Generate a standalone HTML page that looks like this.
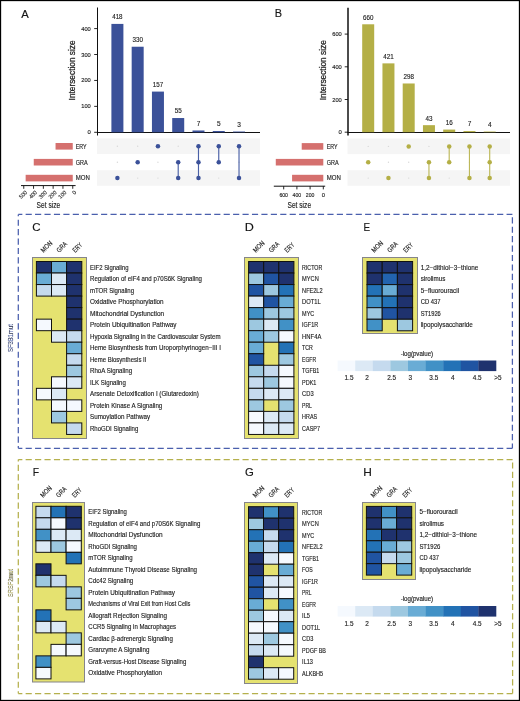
<!DOCTYPE html><html><head><meta charset="utf-8"><style>html,body{margin:0;padding:0;background:#fff;width:520px;height:701px;overflow:hidden;}svg{display:block;will-change:transform;}</style></head><body><svg width="520" height="701" viewBox="0 0 520 701" font-family='"Liberation Sans", sans-serif' fill="#222">
<style>text{stroke:#222;stroke-width:0.14px;}</style>
<rect x="0" y="0" width="520" height="701" fill="#fff"/>
<line x1="97.50" y1="7.50" x2="97.50" y2="135.50" stroke="#111" stroke-width="1"/>
<line x1="94.20" y1="132.30" x2="97.50" y2="132.30" stroke="#111" stroke-width="0.9"/>
<text x="90.80" y="134.30" font-size="5.9" text-anchor="end">0</text>
<line x1="94.20" y1="106.37" x2="97.50" y2="106.37" stroke="#111" stroke-width="0.9"/>
<text x="90.80" y="108.37" font-size="5.9" text-anchor="end" textLength="9.60" lengthAdjust="spacingAndGlyphs">100</text>
<line x1="94.20" y1="80.44" x2="97.50" y2="80.44" stroke="#111" stroke-width="0.9"/>
<text x="90.80" y="82.44" font-size="5.9" text-anchor="end" textLength="9.60" lengthAdjust="spacingAndGlyphs">200</text>
<line x1="94.20" y1="54.51" x2="97.50" y2="54.51" stroke="#111" stroke-width="0.9"/>
<text x="90.80" y="56.51" font-size="5.9" text-anchor="end" textLength="9.60" lengthAdjust="spacingAndGlyphs">300</text>
<line x1="94.20" y1="28.58" x2="97.50" y2="28.58" stroke="#111" stroke-width="0.9"/>
<text x="90.80" y="30.58" font-size="5.9" text-anchor="end" textLength="9.60" lengthAdjust="spacingAndGlyphs">400</text>
<line x1="97.00" y1="132.50" x2="260.00" y2="132.50" stroke="#111" stroke-width="1.05"/>
<text x="75.00" y="70.40" font-size="8.8" text-anchor="middle" textLength="60.00" lengthAdjust="spacingAndGlyphs" transform="rotate(-90 75.00 70.40)" style="stroke-width:0.25px">Intersection size</text>
<rect x="111.40" y="23.91" width="12.00" height="108.39" fill="#3B5199"/>
<text x="117.40" y="19.31" font-size="6.5" text-anchor="middle" textLength="10.40" lengthAdjust="spacingAndGlyphs">418</text>
<rect x="131.67" y="46.73" width="12.00" height="85.57" fill="#3B5199"/>
<text x="137.67" y="42.13" font-size="6.5" text-anchor="middle" textLength="10.40" lengthAdjust="spacingAndGlyphs">330</text>
<rect x="151.94" y="91.59" width="12.00" height="40.71" fill="#3B5199"/>
<text x="157.94" y="86.99" font-size="6.5" text-anchor="middle" textLength="10.40" lengthAdjust="spacingAndGlyphs">157</text>
<rect x="172.21" y="118.04" width="12.00" height="14.26" fill="#3B5199"/>
<text x="178.21" y="113.44" font-size="6.5" text-anchor="middle" textLength="7.00" lengthAdjust="spacingAndGlyphs">55</text>
<rect x="192.48" y="130.48" width="12.00" height="1.82" fill="#3B5199"/>
<text x="198.48" y="125.88" font-size="6.5" text-anchor="middle">7</text>
<rect x="212.75" y="131.00" width="12.00" height="1.30" fill="#3B5199"/>
<text x="218.75" y="126.40" font-size="6.5" text-anchor="middle">5</text>
<rect x="233.02" y="131.52" width="12.00" height="0.78" fill="#3B5199"/>
<text x="239.02" y="126.92" font-size="6.5" text-anchor="middle">3</text>
<rect x="97.00" y="138.40" width="163.00" height="15.60" fill="#F5F5F5"/>
<rect x="97.00" y="170.20" width="163.00" height="15.60" fill="#F5F5F5"/>
<circle cx="117.40" cy="146.30" r="0.7" fill="#D8D8D8"/>
<circle cx="117.40" cy="162.20" r="0.7" fill="#D8D8D8"/>
<circle cx="117.40" cy="178.10" r="2.25" fill="#3B5199"/>
<circle cx="137.67" cy="146.30" r="0.7" fill="#D8D8D8"/>
<circle cx="137.67" cy="178.10" r="0.7" fill="#D8D8D8"/>
<circle cx="137.67" cy="162.20" r="2.25" fill="#3B5199"/>
<circle cx="157.94" cy="162.20" r="0.7" fill="#D8D8D8"/>
<circle cx="157.94" cy="178.10" r="0.7" fill="#D8D8D8"/>
<circle cx="157.94" cy="146.30" r="2.25" fill="#3B5199"/>
<circle cx="178.21" cy="146.30" r="0.7" fill="#D8D8D8"/>
<line x1="178.21" y1="162.20" x2="178.21" y2="178.10" stroke="#4A60A6" stroke-width="1.15"/>
<circle cx="178.21" cy="162.20" r="2.25" fill="#3B5199"/>
<circle cx="178.21" cy="178.10" r="2.25" fill="#3B5199"/>
<line x1="198.48" y1="146.30" x2="198.48" y2="178.10" stroke="#4A60A6" stroke-width="1.15"/>
<circle cx="198.48" cy="146.30" r="2.25" fill="#3B5199"/>
<circle cx="198.48" cy="162.20" r="2.25" fill="#3B5199"/>
<circle cx="198.48" cy="178.10" r="2.25" fill="#3B5199"/>
<circle cx="218.75" cy="178.10" r="0.7" fill="#D8D8D8"/>
<line x1="218.75" y1="146.30" x2="218.75" y2="162.20" stroke="#4A60A6" stroke-width="1.15"/>
<circle cx="218.75" cy="146.30" r="2.25" fill="#3B5199"/>
<circle cx="218.75" cy="162.20" r="2.25" fill="#3B5199"/>
<circle cx="239.02" cy="162.20" r="0.7" fill="#D8D8D8"/>
<line x1="239.02" y1="146.30" x2="239.02" y2="178.10" stroke="#4A60A6" stroke-width="1.15"/>
<circle cx="239.02" cy="146.30" r="2.25" fill="#3B5199"/>
<circle cx="239.02" cy="178.10" r="2.25" fill="#3B5199"/>
<rect x="55.55" y="143.00" width="17.20" height="6.60" fill="#D5706E"/>
<text x="75.80" y="148.60" font-size="6.4" textLength="10.80" lengthAdjust="spacingAndGlyphs">ERY</text>
<rect x="33.75" y="158.90" width="39.00" height="6.60" fill="#D5706E"/>
<text x="75.80" y="164.50" font-size="6.4" textLength="11.90" lengthAdjust="spacingAndGlyphs">GRA</text>
<rect x="25.65" y="174.80" width="47.10" height="6.60" fill="#D5706E"/>
<text x="75.80" y="180.40" font-size="6.4" textLength="14.10" lengthAdjust="spacingAndGlyphs">MON</text>
<line x1="21.00" y1="185.60" x2="75.60" y2="185.60" stroke="#111" stroke-width="1"/>
<line x1="72.75" y1="185.60" x2="72.75" y2="188.80" stroke="#111" stroke-width="0.9"/>
<text x="76.65" y="192.80" font-size="5.6" text-anchor="end" transform="rotate(-45 76.65 192.80)">0</text>
<line x1="62.95" y1="185.60" x2="62.95" y2="188.80" stroke="#111" stroke-width="0.9"/>
<text x="66.85" y="192.80" font-size="5.6" text-anchor="end" textLength="8.90" lengthAdjust="spacingAndGlyphs" transform="rotate(-45 66.85 192.80)">100</text>
<line x1="53.15" y1="185.60" x2="53.15" y2="188.80" stroke="#111" stroke-width="0.9"/>
<text x="57.05" y="192.80" font-size="5.6" text-anchor="end" textLength="8.90" lengthAdjust="spacingAndGlyphs" transform="rotate(-45 57.05 192.80)">200</text>
<line x1="43.35" y1="185.60" x2="43.35" y2="188.80" stroke="#111" stroke-width="0.9"/>
<text x="47.25" y="192.80" font-size="5.6" text-anchor="end" textLength="8.90" lengthAdjust="spacingAndGlyphs" transform="rotate(-45 47.25 192.80)">300</text>
<line x1="33.55" y1="185.60" x2="33.55" y2="188.80" stroke="#111" stroke-width="0.9"/>
<text x="37.45" y="192.80" font-size="5.6" text-anchor="end" textLength="8.90" lengthAdjust="spacingAndGlyphs" transform="rotate(-45 37.45 192.80)">400</text>
<line x1="23.75" y1="185.60" x2="23.75" y2="188.80" stroke="#111" stroke-width="0.9"/>
<text x="27.65" y="192.80" font-size="5.6" text-anchor="end" textLength="8.90" lengthAdjust="spacingAndGlyphs" transform="rotate(-45 27.65 192.80)">500</text>
<text x="48.40" y="208.30" font-size="8.2" text-anchor="middle" textLength="23.60" lengthAdjust="spacingAndGlyphs">Set size</text>
<line x1="348.00" y1="7.70" x2="348.00" y2="135.40" stroke="#111" stroke-width="1.5"/>
<line x1="344.70" y1="132.20" x2="348.00" y2="132.20" stroke="#111" stroke-width="0.9"/>
<text x="341.80" y="134.20" font-size="5.9" text-anchor="end">0</text>
<line x1="344.70" y1="99.50" x2="348.00" y2="99.50" stroke="#111" stroke-width="0.9"/>
<text x="341.80" y="101.50" font-size="5.9" text-anchor="end" textLength="9.60" lengthAdjust="spacingAndGlyphs">200</text>
<line x1="344.70" y1="66.80" x2="348.00" y2="66.80" stroke="#111" stroke-width="0.9"/>
<text x="341.80" y="68.80" font-size="5.9" text-anchor="end" textLength="9.60" lengthAdjust="spacingAndGlyphs">400</text>
<line x1="344.70" y1="34.10" x2="348.00" y2="34.10" stroke="#111" stroke-width="0.9"/>
<text x="341.80" y="36.10" font-size="5.9" text-anchor="end" textLength="9.60" lengthAdjust="spacingAndGlyphs">600</text>
<line x1="347.50" y1="132.50" x2="510.00" y2="132.50" stroke="#111" stroke-width="1.05"/>
<text x="326.00" y="70.20" font-size="8.8" text-anchor="middle" textLength="60.00" lengthAdjust="spacingAndGlyphs" transform="rotate(-90 326.00 70.20)" style="stroke-width:0.25px">Intersection size</text>
<rect x="362.20" y="24.29" width="12.00" height="107.91" fill="#B4AF46"/>
<text x="368.20" y="19.69" font-size="6.5" text-anchor="middle" textLength="10.40" lengthAdjust="spacingAndGlyphs">660</text>
<rect x="382.45" y="63.37" width="12.00" height="68.83" fill="#B4AF46"/>
<text x="388.45" y="58.77" font-size="6.5" text-anchor="middle" textLength="10.40" lengthAdjust="spacingAndGlyphs">421</text>
<rect x="402.70" y="83.48" width="12.00" height="48.72" fill="#B4AF46"/>
<text x="408.70" y="78.88" font-size="6.5" text-anchor="middle" textLength="10.40" lengthAdjust="spacingAndGlyphs">298</text>
<rect x="422.95" y="125.17" width="12.00" height="7.03" fill="#B4AF46"/>
<text x="428.95" y="120.57" font-size="6.5" text-anchor="middle" textLength="7.00" lengthAdjust="spacingAndGlyphs">43</text>
<rect x="443.20" y="129.58" width="12.00" height="2.62" fill="#B4AF46"/>
<text x="449.20" y="124.98" font-size="6.5" text-anchor="middle" textLength="7.00" lengthAdjust="spacingAndGlyphs">16</text>
<rect x="463.45" y="131.06" width="12.00" height="1.14" fill="#B4AF46"/>
<text x="469.45" y="126.46" font-size="6.5" text-anchor="middle">7</text>
<rect x="483.70" y="131.55" width="12.00" height="0.65" fill="#B4AF46"/>
<text x="489.70" y="126.95" font-size="6.5" text-anchor="middle">4</text>
<rect x="347.50" y="138.50" width="162.50" height="15.60" fill="#F5F5F5"/>
<rect x="347.50" y="170.20" width="162.50" height="15.60" fill="#F5F5F5"/>
<circle cx="368.20" cy="146.40" r="0.7" fill="#D8D8D8"/>
<circle cx="368.20" cy="178.10" r="0.7" fill="#D8D8D8"/>
<circle cx="368.20" cy="162.20" r="2.25" fill="#B4AF46"/>
<circle cx="388.45" cy="146.40" r="0.7" fill="#D8D8D8"/>
<circle cx="388.45" cy="162.20" r="0.7" fill="#D8D8D8"/>
<circle cx="388.45" cy="178.10" r="2.25" fill="#B4AF46"/>
<circle cx="408.70" cy="162.20" r="0.7" fill="#D8D8D8"/>
<circle cx="408.70" cy="178.10" r="0.7" fill="#D8D8D8"/>
<circle cx="408.70" cy="146.40" r="2.25" fill="#B4AF46"/>
<circle cx="428.95" cy="146.40" r="0.7" fill="#D8D8D8"/>
<line x1="428.95" y1="162.20" x2="428.95" y2="178.10" stroke="#BDB85A" stroke-width="1.15"/>
<circle cx="428.95" cy="162.20" r="2.25" fill="#B4AF46"/>
<circle cx="428.95" cy="178.10" r="2.25" fill="#B4AF46"/>
<circle cx="449.20" cy="178.10" r="0.7" fill="#D8D8D8"/>
<line x1="449.20" y1="146.40" x2="449.20" y2="162.20" stroke="#BDB85A" stroke-width="1.15"/>
<circle cx="449.20" cy="146.40" r="2.25" fill="#B4AF46"/>
<circle cx="449.20" cy="162.20" r="2.25" fill="#B4AF46"/>
<circle cx="469.45" cy="162.20" r="0.7" fill="#D8D8D8"/>
<line x1="469.45" y1="146.40" x2="469.45" y2="178.10" stroke="#BDB85A" stroke-width="1.15"/>
<circle cx="469.45" cy="146.40" r="2.25" fill="#B4AF46"/>
<circle cx="469.45" cy="178.10" r="2.25" fill="#B4AF46"/>
<line x1="489.70" y1="146.40" x2="489.70" y2="178.10" stroke="#BDB85A" stroke-width="1.15"/>
<circle cx="489.70" cy="146.40" r="2.25" fill="#B4AF46"/>
<circle cx="489.70" cy="162.20" r="2.25" fill="#B4AF46"/>
<circle cx="489.70" cy="178.10" r="2.25" fill="#B4AF46"/>
<rect x="301.72" y="143.10" width="21.58" height="6.60" fill="#D5706E"/>
<text x="326.70" y="148.70" font-size="6.4" textLength="10.80" lengthAdjust="spacingAndGlyphs">ERY</text>
<rect x="275.78" y="158.90" width="47.52" height="6.60" fill="#D5706E"/>
<text x="326.70" y="164.50" font-size="6.4" textLength="11.90" lengthAdjust="spacingAndGlyphs">GRA</text>
<rect x="292.08" y="174.80" width="31.22" height="6.60" fill="#D5706E"/>
<text x="326.70" y="180.40" font-size="6.4" textLength="14.10" lengthAdjust="spacingAndGlyphs">MON</text>
<line x1="273.80" y1="186.20" x2="325.20" y2="186.20" stroke="#111" stroke-width="1"/>
<line x1="323.30" y1="186.20" x2="323.30" y2="189.40" stroke="#111" stroke-width="0.9"/>
<text x="323.30" y="197.00" font-size="5.8" text-anchor="middle">0</text>
<line x1="310.10" y1="186.20" x2="310.10" y2="189.40" stroke="#111" stroke-width="0.9"/>
<text x="310.10" y="197.00" font-size="5.8" text-anchor="middle" textLength="8.60" lengthAdjust="spacingAndGlyphs">200</text>
<line x1="296.90" y1="186.20" x2="296.90" y2="189.40" stroke="#111" stroke-width="0.9"/>
<text x="296.90" y="197.00" font-size="5.8" text-anchor="middle" textLength="8.60" lengthAdjust="spacingAndGlyphs">400</text>
<line x1="283.70" y1="186.20" x2="283.70" y2="189.40" stroke="#111" stroke-width="0.9"/>
<text x="283.70" y="197.00" font-size="5.8" text-anchor="middle" textLength="8.60" lengthAdjust="spacingAndGlyphs">600</text>
<text x="299.30" y="208.40" font-size="8.2" text-anchor="middle" textLength="23.60" lengthAdjust="spacingAndGlyphs">Set size</text>
<text x="21.20" y="17.50" font-size="10.8" textLength="7.50" lengthAdjust="spacingAndGlyphs" fill="#111" stroke="#111">A</text>
<text x="274.80" y="17.30" font-size="10.8" textLength="7.30" lengthAdjust="spacingAndGlyphs" fill="#111" stroke="#111">B</text>
<text x="32.30" y="230.90" font-size="10.8" textLength="8.30" lengthAdjust="spacingAndGlyphs" fill="#111" stroke="#111">C</text>
<text x="244.80" y="230.90" font-size="10.8" textLength="9.10" lengthAdjust="spacingAndGlyphs" fill="#111" stroke="#111">D</text>
<text x="363.60" y="231.10" font-size="10.8" textLength="6.60" lengthAdjust="spacingAndGlyphs" fill="#111" stroke="#111">E</text>
<text x="32.70" y="476.30" font-size="10.8" textLength="6.30" lengthAdjust="spacingAndGlyphs" fill="#111" stroke="#111">F</text>
<text x="245.10" y="476.40" font-size="10.8" textLength="8.80" lengthAdjust="spacingAndGlyphs" fill="#111" stroke="#111">G</text>
<text x="363.20" y="476.10" font-size="10.8" textLength="8.60" lengthAdjust="spacingAndGlyphs" fill="#111" stroke="#111">H</text>
<g stroke="#4A5FAD" stroke-width="1.25" fill="none" stroke-dasharray="6.15 3.28">
<line x1="18.3" y1="214.4" x2="512.4" y2="214.4" stroke-dashoffset="2.1"/>
<line x1="18.3" y1="448.3" x2="512.4" y2="448.3" stroke-dashoffset="2.1"/>
<line x1="18.3" y1="214.4" x2="18.3" y2="448.3" stroke-dashoffset="4.2"/>
<line x1="512.4" y1="214.4" x2="512.4" y2="448.3" stroke-dashoffset="6.6"/>
</g>
<g stroke="#B5B04C" stroke-width="1.25" fill="none" stroke-dasharray="6.15 3.28">
<line x1="18.3" y1="459.6" x2="512.6" y2="459.6" stroke-dashoffset="2.1"/>
<line x1="18.3" y1="693.5" x2="512.6" y2="693.5" stroke-dashoffset="2.1"/>
<line x1="18.3" y1="459.6" x2="18.3" y2="693.5" stroke-dashoffset="4.2"/>
<line x1="512.6" y1="459.6" x2="512.6" y2="693.5" stroke-dashoffset="6.6"/>
</g>
<text x="13.00" y="338.00" font-size="6.6" text-anchor="middle" textLength="28.00" lengthAdjust="spacingAndGlyphs" transform="rotate(-90 13.00 338.00)" fill="#5C70B8" stroke="none">SF3B1mut</text>
<text x="13.00" y="583.00" font-size="6.6" text-anchor="middle" textLength="28.00" lengthAdjust="spacingAndGlyphs" transform="rotate(-90 13.00 583.00)" fill="#C3BE6E" stroke="none">SRSF2mut</text>
<rect x="32.50" y="257.50" width="54.00" height="181.00" fill="#E5E270" stroke="#85858A" stroke-width="1.0"/>
<rect x="36.40" y="261.50" width="15.10" height="11.53" fill="#1F326E" stroke="#111" stroke-width="1.0"/>
<rect x="51.50" y="261.50" width="15.10" height="11.53" fill="#69ACD5" stroke="#111" stroke-width="1.0"/>
<rect x="66.60" y="261.50" width="15.20" height="11.53" fill="#1F326E" stroke="#111" stroke-width="1.0"/>
<text x="90.00" y="269.51" font-size="6.6" textLength="38.50" lengthAdjust="spacingAndGlyphs">EIF2 Signaling</text>
<rect x="36.40" y="273.03" width="15.10" height="11.53" fill="#69ACD5" stroke="#111" stroke-width="1.0"/>
<rect x="51.50" y="273.03" width="15.10" height="11.53" fill="#DCE9F5" stroke="#111" stroke-width="1.0"/>
<rect x="66.60" y="273.03" width="15.20" height="11.53" fill="#1F326E" stroke="#111" stroke-width="1.0"/>
<text x="90.00" y="281.04" font-size="6.6" textLength="112.00" lengthAdjust="spacingAndGlyphs">Regulation of eIF4 and p70S6K Signaling</text>
<rect x="36.40" y="284.56" width="15.10" height="11.53" fill="#C5DAEE" stroke="#111" stroke-width="1.0"/>
<rect x="51.50" y="284.56" width="15.10" height="11.53" fill="#DCE9F5" stroke="#111" stroke-width="1.0"/>
<rect x="66.60" y="284.56" width="15.20" height="11.53" fill="#1F326E" stroke="#111" stroke-width="1.0"/>
<text x="90.00" y="292.57" font-size="6.6" textLength="44.00" lengthAdjust="spacingAndGlyphs">mTOR Signaling</text>
<rect x="66.60" y="296.09" width="15.20" height="11.53" fill="#1F326E" stroke="#111" stroke-width="1.0"/>
<text x="90.00" y="304.10" font-size="6.6" textLength="73.60" lengthAdjust="spacingAndGlyphs">Oxidative Phosphorylation</text>
<rect x="66.60" y="307.62" width="15.20" height="11.53" fill="#1F326E" stroke="#111" stroke-width="1.0"/>
<text x="90.00" y="315.63" font-size="6.6" textLength="74.20" lengthAdjust="spacingAndGlyphs">Mitochondrial Dysfunction</text>
<rect x="36.40" y="319.15" width="15.10" height="11.53" fill="#F5F9FE" stroke="#111" stroke-width="1.0"/>
<rect x="66.60" y="319.15" width="15.20" height="11.53" fill="#1F326E" stroke="#111" stroke-width="1.0"/>
<text x="90.00" y="327.16" font-size="6.6" textLength="86.50" lengthAdjust="spacingAndGlyphs">Protein Ubiquitination Pathway</text>
<rect x="51.50" y="330.68" width="15.10" height="11.53" fill="#DCE9F5" stroke="#111" stroke-width="1.0"/>
<rect x="66.60" y="330.68" width="15.20" height="11.53" fill="#C5DAEE" stroke="#111" stroke-width="1.0"/>
<text x="90.00" y="338.69" font-size="6.6" textLength="130.50" lengthAdjust="spacingAndGlyphs">Hypoxia Signaling in the Cardiovascular System</text>
<rect x="66.60" y="342.21" width="15.20" height="11.53" fill="#69ACD5" stroke="#111" stroke-width="1.0"/>
<text x="90.00" y="350.22" font-size="6.6" textLength="131.00" lengthAdjust="spacingAndGlyphs">Heme Biosynthesis from Uroporphyrinogen−III I</text>
<rect x="66.60" y="353.74" width="15.20" height="11.53" fill="#C5DAEE" stroke="#111" stroke-width="1.0"/>
<text x="90.00" y="361.75" font-size="6.6" textLength="56.40" lengthAdjust="spacingAndGlyphs">Heme Biosynthesis II</text>
<rect x="66.60" y="365.27" width="15.20" height="11.53" fill="#9DC8E0" stroke="#111" stroke-width="1.0"/>
<text x="90.00" y="373.28" font-size="6.6" textLength="42.10" lengthAdjust="spacingAndGlyphs">RhoA Signaling</text>
<rect x="51.50" y="376.80" width="15.10" height="11.53" fill="#F5F9FE" stroke="#111" stroke-width="1.0"/>
<rect x="66.60" y="376.80" width="15.20" height="11.53" fill="#DCE9F5" stroke="#111" stroke-width="1.0"/>
<text x="90.00" y="384.81" font-size="6.6" textLength="35.90" lengthAdjust="spacingAndGlyphs">ILK Signaling</text>
<rect x="36.40" y="388.33" width="15.10" height="11.53" fill="#F5F9FE" stroke="#111" stroke-width="1.0"/>
<rect x="51.50" y="388.33" width="15.10" height="11.53" fill="#DCE9F5" stroke="#111" stroke-width="1.0"/>
<text x="90.00" y="396.34" font-size="6.6" textLength="108.90" lengthAdjust="spacingAndGlyphs">Arsenate Detoxification I (Glutaredoxin)</text>
<rect x="51.50" y="399.86" width="15.10" height="11.53" fill="#F5F9FE" stroke="#111" stroke-width="1.0"/>
<rect x="66.60" y="399.86" width="15.20" height="11.53" fill="#F5F9FE" stroke="#111" stroke-width="1.0"/>
<text x="90.00" y="407.88" font-size="6.6" textLength="72.30" lengthAdjust="spacingAndGlyphs">Protein Kinase A Signaling</text>
<rect x="51.50" y="411.39" width="15.10" height="11.53" fill="#9DC8E0" stroke="#111" stroke-width="1.0"/>
<text x="90.00" y="419.40" font-size="6.6" textLength="60.20" lengthAdjust="spacingAndGlyphs">Sumoylation Pathway</text>
<rect x="66.60" y="422.92" width="15.20" height="11.53" fill="#C5DAEE" stroke="#111" stroke-width="1.0"/>
<text x="90.00" y="430.93" font-size="6.6" textLength="48.30" lengthAdjust="spacingAndGlyphs">RhoGDI Signaling</text>
<text x="43.55" y="252.90" font-size="6.9" textLength="13.20" lengthAdjust="spacingAndGlyphs" transform="rotate(-45 43.55 252.90)">MON</text>
<text x="59.25" y="252.90" font-size="6.9" textLength="11.90" lengthAdjust="spacingAndGlyphs" transform="rotate(-45 59.25 252.90)">GRA</text>
<text x="75.20" y="252.90" font-size="6.9" textLength="10.60" lengthAdjust="spacingAndGlyphs" transform="rotate(-45 75.20 252.90)">ERY</text>
<rect x="244.50" y="257.50" width="54.00" height="181.00" fill="#E5E270" stroke="#85858A" stroke-width="1.0"/>
<rect x="248.60" y="261.50" width="15.10" height="11.53" fill="#1F326E" stroke="#111" stroke-width="1.0"/>
<rect x="263.70" y="261.50" width="15.10" height="11.53" fill="#1F326E" stroke="#111" stroke-width="1.0"/>
<rect x="278.80" y="261.50" width="15.10" height="11.53" fill="#1F326E" stroke="#111" stroke-width="1.0"/>
<text x="302.10" y="269.51" font-size="6.6" textLength="20.10" lengthAdjust="spacingAndGlyphs">RICTOR</text>
<rect x="248.60" y="273.03" width="15.10" height="11.53" fill="#9DC8E0" stroke="#111" stroke-width="1.0"/>
<rect x="263.70" y="273.03" width="15.10" height="11.53" fill="#2054A2" stroke="#111" stroke-width="1.0"/>
<rect x="278.80" y="273.03" width="15.10" height="11.53" fill="#1F326E" stroke="#111" stroke-width="1.0"/>
<text x="302.10" y="281.04" font-size="6.6" textLength="16.70" lengthAdjust="spacingAndGlyphs">MYCN</text>
<rect x="248.60" y="284.56" width="15.10" height="11.53" fill="#2054A2" stroke="#111" stroke-width="1.0"/>
<rect x="263.70" y="284.56" width="15.10" height="11.53" fill="#9DC8E0" stroke="#111" stroke-width="1.0"/>
<rect x="278.80" y="284.56" width="15.10" height="11.53" fill="#2372B6" stroke="#111" stroke-width="1.0"/>
<text x="302.10" y="292.57" font-size="6.6" textLength="20.50" lengthAdjust="spacingAndGlyphs">NFE2L2</text>
<rect x="248.60" y="296.09" width="15.10" height="11.53" fill="#DCE9F5" stroke="#111" stroke-width="1.0"/>
<rect x="263.70" y="296.09" width="15.10" height="11.53" fill="#2054A2" stroke="#111" stroke-width="1.0"/>
<rect x="278.80" y="296.09" width="15.10" height="11.53" fill="#69ACD5" stroke="#111" stroke-width="1.0"/>
<text x="302.10" y="304.10" font-size="6.6" textLength="18.60" lengthAdjust="spacingAndGlyphs">DOT1L</text>
<rect x="248.60" y="307.62" width="15.10" height="11.53" fill="#4191C6" stroke="#111" stroke-width="1.0"/>
<rect x="263.70" y="307.62" width="15.10" height="11.53" fill="#9DC8E0" stroke="#111" stroke-width="1.0"/>
<rect x="278.80" y="307.62" width="15.10" height="11.53" fill="#9DC8E0" stroke="#111" stroke-width="1.0"/>
<text x="302.10" y="315.63" font-size="6.6" textLength="12.20" lengthAdjust="spacingAndGlyphs">MYC</text>
<rect x="248.60" y="319.15" width="15.10" height="11.53" fill="#9DC8E0" stroke="#111" stroke-width="1.0"/>
<rect x="263.70" y="319.15" width="15.10" height="11.53" fill="#DCE9F5" stroke="#111" stroke-width="1.0"/>
<rect x="278.80" y="319.15" width="15.10" height="11.53" fill="#4191C6" stroke="#111" stroke-width="1.0"/>
<text x="302.10" y="327.16" font-size="6.6" textLength="16.00" lengthAdjust="spacingAndGlyphs">IGF1R</text>
<rect x="248.60" y="330.68" width="15.10" height="11.53" fill="#69ACD5" stroke="#111" stroke-width="1.0"/>
<rect x="263.70" y="330.68" width="15.10" height="11.53" fill="#9DC8E0" stroke="#111" stroke-width="1.0"/>
<rect x="278.80" y="330.68" width="15.10" height="11.53" fill="#F5F9FE" stroke="#111" stroke-width="1.0"/>
<text x="302.10" y="338.69" font-size="6.6" textLength="19.20" lengthAdjust="spacingAndGlyphs">HNF4A</text>
<rect x="248.60" y="342.21" width="15.10" height="11.53" fill="#69ACD5" stroke="#111" stroke-width="1.0"/>
<rect x="278.80" y="342.21" width="15.10" height="11.53" fill="#2372B6" stroke="#111" stroke-width="1.0"/>
<text x="302.10" y="350.22" font-size="6.6" textLength="10.80" lengthAdjust="spacingAndGlyphs">TCR</text>
<rect x="248.60" y="353.74" width="15.10" height="11.53" fill="#2054A2" stroke="#111" stroke-width="1.0"/>
<rect x="278.80" y="353.74" width="15.10" height="11.53" fill="#9DC8E0" stroke="#111" stroke-width="1.0"/>
<text x="302.10" y="361.75" font-size="6.6" textLength="14.00" lengthAdjust="spacingAndGlyphs">EGFR</text>
<rect x="248.60" y="365.27" width="15.10" height="11.53" fill="#9DC8E0" stroke="#111" stroke-width="1.0"/>
<rect x="263.70" y="365.27" width="15.10" height="11.53" fill="#C5DAEE" stroke="#111" stroke-width="1.0"/>
<rect x="278.80" y="365.27" width="15.10" height="11.53" fill="#F5F9FE" stroke="#111" stroke-width="1.0"/>
<text x="302.10" y="373.28" font-size="6.6" textLength="17.20" lengthAdjust="spacingAndGlyphs">TGFB1</text>
<rect x="248.60" y="376.80" width="15.10" height="11.53" fill="#C5DAEE" stroke="#111" stroke-width="1.0"/>
<rect x="263.70" y="376.80" width="15.10" height="11.53" fill="#9DC8E0" stroke="#111" stroke-width="1.0"/>
<rect x="278.80" y="376.80" width="15.10" height="11.53" fill="#F5F9FE" stroke="#111" stroke-width="1.0"/>
<text x="302.10" y="384.81" font-size="6.6" textLength="14.30" lengthAdjust="spacingAndGlyphs">PDK1</text>
<rect x="248.60" y="388.33" width="15.10" height="11.53" fill="#C5DAEE" stroke="#111" stroke-width="1.0"/>
<rect x="263.70" y="388.33" width="15.10" height="11.53" fill="#DCE9F5" stroke="#111" stroke-width="1.0"/>
<rect x="278.80" y="388.33" width="15.10" height="11.53" fill="#DCE9F5" stroke="#111" stroke-width="1.0"/>
<text x="302.10" y="396.34" font-size="6.6" textLength="11.50" lengthAdjust="spacingAndGlyphs">CD3</text>
<rect x="248.60" y="399.86" width="15.10" height="11.53" fill="#9DC8E0" stroke="#111" stroke-width="1.0"/>
<rect x="278.80" y="399.86" width="15.10" height="11.53" fill="#9DC8E0" stroke="#111" stroke-width="1.0"/>
<text x="302.10" y="407.88" font-size="6.6" textLength="9.80" lengthAdjust="spacingAndGlyphs">PRL</text>
<rect x="248.60" y="411.39" width="15.10" height="11.53" fill="#F5F9FE" stroke="#111" stroke-width="1.0"/>
<rect x="263.70" y="411.39" width="15.10" height="11.53" fill="#DCE9F5" stroke="#111" stroke-width="1.0"/>
<rect x="278.80" y="411.39" width="15.10" height="11.53" fill="#C5DAEE" stroke="#111" stroke-width="1.0"/>
<text x="302.10" y="419.40" font-size="6.6" textLength="15.00" lengthAdjust="spacingAndGlyphs">HRAS</text>
<rect x="248.60" y="422.92" width="15.10" height="11.53" fill="#F5F9FE" stroke="#111" stroke-width="1.0"/>
<rect x="263.70" y="422.92" width="15.10" height="11.53" fill="#DCE9F5" stroke="#111" stroke-width="1.0"/>
<rect x="278.80" y="422.92" width="15.10" height="11.53" fill="#DCE9F5" stroke="#111" stroke-width="1.0"/>
<text x="302.10" y="430.93" font-size="6.6" textLength="17.90" lengthAdjust="spacingAndGlyphs">CASP7</text>
<text x="255.75" y="252.90" font-size="6.9" textLength="13.20" lengthAdjust="spacingAndGlyphs" transform="rotate(-45 255.75 252.90)">MON</text>
<text x="271.45" y="252.90" font-size="6.9" textLength="11.90" lengthAdjust="spacingAndGlyphs" transform="rotate(-45 271.45 252.90)">GRA</text>
<text x="287.35" y="252.90" font-size="6.9" textLength="10.60" lengthAdjust="spacingAndGlyphs" transform="rotate(-45 287.35 252.90)">ERY</text>
<rect x="362.50" y="257.50" width="55.00" height="76.00" fill="#E5E270" stroke="#85858A" stroke-width="1.0"/>
<rect x="367.00" y="261.50" width="15.20" height="11.55" fill="#1F326E" stroke="#111" stroke-width="1.0"/>
<rect x="382.20" y="261.50" width="15.20" height="11.55" fill="#1F326E" stroke="#111" stroke-width="1.0"/>
<rect x="397.40" y="261.50" width="15.20" height="11.55" fill="#1F326E" stroke="#111" stroke-width="1.0"/>
<text x="420.70" y="269.52" font-size="6.6" textLength="57.60" lengthAdjust="spacingAndGlyphs">1,2−dithiol−3−thione</text>
<rect x="367.00" y="273.05" width="15.20" height="11.55" fill="#1F326E" stroke="#111" stroke-width="1.0"/>
<rect x="382.20" y="273.05" width="15.20" height="11.55" fill="#2263AE" stroke="#111" stroke-width="1.0"/>
<rect x="397.40" y="273.05" width="15.20" height="11.55" fill="#1F326E" stroke="#111" stroke-width="1.0"/>
<text x="420.70" y="281.07" font-size="6.6" textLength="24.60" lengthAdjust="spacingAndGlyphs">sirolimus</text>
<rect x="367.00" y="284.60" width="15.20" height="11.55" fill="#2372B6" stroke="#111" stroke-width="1.0"/>
<rect x="382.20" y="284.60" width="15.20" height="11.55" fill="#69ACD5" stroke="#111" stroke-width="1.0"/>
<rect x="397.40" y="284.60" width="15.20" height="11.55" fill="#1F326E" stroke="#111" stroke-width="1.0"/>
<text x="420.70" y="292.62" font-size="6.6" textLength="38.40" lengthAdjust="spacingAndGlyphs">5−fluorouracil</text>
<rect x="367.00" y="296.15" width="15.20" height="11.55" fill="#4191C6" stroke="#111" stroke-width="1.0"/>
<rect x="382.20" y="296.15" width="15.20" height="11.55" fill="#2372B6" stroke="#111" stroke-width="1.0"/>
<rect x="397.40" y="296.15" width="15.20" height="11.55" fill="#1F326E" stroke="#111" stroke-width="1.0"/>
<text x="420.70" y="304.17" font-size="6.6" textLength="19.90" lengthAdjust="spacingAndGlyphs">CD 437</text>
<rect x="367.00" y="307.70" width="15.20" height="11.55" fill="#9DC8E0" stroke="#111" stroke-width="1.0"/>
<rect x="382.20" y="307.70" width="15.20" height="11.55" fill="#2054A2" stroke="#111" stroke-width="1.0"/>
<rect x="397.40" y="307.70" width="15.20" height="11.55" fill="#1F326E" stroke="#111" stroke-width="1.0"/>
<text x="420.70" y="315.72" font-size="6.6" textLength="20.10" lengthAdjust="spacingAndGlyphs">ST1926</text>
<rect x="367.00" y="319.25" width="15.20" height="11.55" fill="#4191C6" stroke="#111" stroke-width="1.0"/>
<rect x="397.40" y="319.25" width="15.20" height="11.55" fill="#9DC8E0" stroke="#111" stroke-width="1.0"/>
<text x="420.70" y="327.27" font-size="6.6" textLength="52.20" lengthAdjust="spacingAndGlyphs">lipopolysaccharide</text>
<text x="374.20" y="252.90" font-size="6.9" textLength="13.20" lengthAdjust="spacingAndGlyphs" transform="rotate(-45 374.20 252.90)">MON</text>
<text x="390.00" y="252.90" font-size="6.9" textLength="11.90" lengthAdjust="spacingAndGlyphs" transform="rotate(-45 390.00 252.90)">GRA</text>
<text x="406.00" y="252.90" font-size="6.9" textLength="10.60" lengthAdjust="spacingAndGlyphs" transform="rotate(-45 406.00 252.90)">ERY</text>
<rect x="337.60" y="360.50" width="17.90" height="10.60" fill="#F5F9FE"/>
<rect x="355.20" y="360.50" width="17.90" height="10.60" fill="#DCE9F5"/>
<rect x="372.80" y="360.50" width="17.90" height="10.60" fill="#C5DAEE"/>
<rect x="390.40" y="360.50" width="17.90" height="10.60" fill="#9DC8E0"/>
<rect x="408.00" y="360.50" width="17.90" height="10.60" fill="#69ACD5"/>
<rect x="425.60" y="360.50" width="17.90" height="10.60" fill="#4191C6"/>
<rect x="443.20" y="360.50" width="17.90" height="10.60" fill="#2372B6"/>
<rect x="460.80" y="360.50" width="17.90" height="10.60" fill="#2054A2"/>
<rect x="478.40" y="360.50" width="17.90" height="10.60" fill="#1F326E"/>
<text x="416.90" y="355.50" font-size="6.5" text-anchor="middle" textLength="32.50" lengthAdjust="spacingAndGlyphs">-log(pvalue)</text>
<text x="349.00" y="380.30" font-size="6.4" text-anchor="middle">1.5</text>
<text x="367.00" y="380.30" font-size="6.4" text-anchor="middle">2</text>
<text x="391.60" y="380.30" font-size="6.4" text-anchor="middle">2.5</text>
<text x="410.30" y="380.30" font-size="6.4" text-anchor="middle">3</text>
<text x="433.80" y="380.30" font-size="6.4" text-anchor="middle">3.5</text>
<text x="452.90" y="380.30" font-size="6.4" text-anchor="middle">4</text>
<text x="477.10" y="380.30" font-size="6.4" text-anchor="middle">4.5</text>
<text x="497.90" y="380.30" font-size="6.4" text-anchor="middle">&gt;5</text>
<rect x="32.50" y="502.50" width="52.00" height="179.50" fill="#E5E270" stroke="#85858A" stroke-width="1.0"/>
<rect x="35.90" y="506.30" width="15.10" height="11.51" fill="#C5DAEE" stroke="#111" stroke-width="1.0"/>
<rect x="51.00" y="506.30" width="15.10" height="11.51" fill="#2372B6" stroke="#111" stroke-width="1.0"/>
<rect x="66.10" y="506.30" width="15.20" height="11.51" fill="#1F326E" stroke="#111" stroke-width="1.0"/>
<text x="88.30" y="514.30" font-size="6.6" textLength="38.60" lengthAdjust="spacingAndGlyphs">EIF2 Signaling</text>
<rect x="35.90" y="517.81" width="15.10" height="11.51" fill="#C5DAEE" stroke="#111" stroke-width="1.0"/>
<rect x="51.00" y="517.81" width="15.10" height="11.51" fill="#F5F9FE" stroke="#111" stroke-width="1.0"/>
<rect x="66.10" y="517.81" width="15.20" height="11.51" fill="#1F326E" stroke="#111" stroke-width="1.0"/>
<text x="88.30" y="525.81" font-size="6.6" textLength="112.00" lengthAdjust="spacingAndGlyphs">Regulation of eIF4 and p70S6K Signaling</text>
<rect x="35.90" y="529.31" width="15.10" height="11.51" fill="#4191C6" stroke="#111" stroke-width="1.0"/>
<rect x="51.00" y="529.31" width="15.10" height="11.51" fill="#DCE9F5" stroke="#111" stroke-width="1.0"/>
<rect x="66.10" y="529.31" width="15.20" height="11.51" fill="#DCE9F5" stroke="#111" stroke-width="1.0"/>
<text x="88.30" y="537.31" font-size="6.6" textLength="74.30" lengthAdjust="spacingAndGlyphs">Mitochondrial Dysfunction</text>
<rect x="35.90" y="540.82" width="15.10" height="11.51" fill="#DCE9F5" stroke="#111" stroke-width="1.0"/>
<rect x="51.00" y="540.82" width="15.10" height="11.51" fill="#9DC8E0" stroke="#111" stroke-width="1.0"/>
<rect x="66.10" y="540.82" width="15.20" height="11.51" fill="#F5F9FE" stroke="#111" stroke-width="1.0"/>
<text x="88.30" y="548.82" font-size="6.6" textLength="48.70" lengthAdjust="spacingAndGlyphs">RhoGDI Signaling</text>
<rect x="66.10" y="552.32" width="15.20" height="11.51" fill="#2372B6" stroke="#111" stroke-width="1.0"/>
<text x="88.30" y="560.32" font-size="6.6" textLength="44.20" lengthAdjust="spacingAndGlyphs">mTOR Signaling</text>
<rect x="35.90" y="563.83" width="15.10" height="11.51" fill="#1F326E" stroke="#111" stroke-width="1.0"/>
<text x="88.30" y="571.83" font-size="6.6" textLength="108.80" lengthAdjust="spacingAndGlyphs">Autoimmune Thyroid Disease Signaling</text>
<rect x="35.90" y="575.33" width="15.10" height="11.51" fill="#9DC8E0" stroke="#111" stroke-width="1.0"/>
<rect x="51.00" y="575.33" width="15.10" height="11.51" fill="#C5DAEE" stroke="#111" stroke-width="1.0"/>
<text x="88.30" y="583.33" font-size="6.6" textLength="45.00" lengthAdjust="spacingAndGlyphs">Cdc42 Signaling</text>
<rect x="66.10" y="586.84" width="15.20" height="11.51" fill="#9DC8E0" stroke="#111" stroke-width="1.0"/>
<text x="88.30" y="594.84" font-size="6.6" textLength="86.70" lengthAdjust="spacingAndGlyphs">Protein Ubiquitination Pathway</text>
<rect x="66.10" y="598.34" width="15.20" height="11.51" fill="#9DC8E0" stroke="#111" stroke-width="1.0"/>
<text x="88.30" y="606.34" font-size="6.6" textLength="102.10" lengthAdjust="spacingAndGlyphs">Mechanisms of Viral Exit from Host Cells</text>
<rect x="35.90" y="609.85" width="15.10" height="11.51" fill="#2372B6" stroke="#111" stroke-width="1.0"/>
<text x="88.30" y="617.85" font-size="6.6" textLength="78.60" lengthAdjust="spacingAndGlyphs">Allograft Rejection Signaling</text>
<rect x="35.90" y="621.35" width="15.10" height="11.51" fill="#DCE9F5" stroke="#111" stroke-width="1.0"/>
<rect x="51.00" y="621.35" width="15.10" height="11.51" fill="#DCE9F5" stroke="#111" stroke-width="1.0"/>
<text x="88.30" y="629.35" font-size="6.6" textLength="87.80" lengthAdjust="spacingAndGlyphs">CCR5 Signaling in Macrophages</text>
<rect x="66.10" y="632.86" width="15.20" height="11.51" fill="#9DC8E0" stroke="#111" stroke-width="1.0"/>
<text x="88.30" y="640.86" font-size="6.6" textLength="84.60" lengthAdjust="spacingAndGlyphs">Cardiac β-adrenergic Signaling</text>
<rect x="51.00" y="644.36" width="15.10" height="11.51" fill="#F5F9FE" stroke="#111" stroke-width="1.0"/>
<rect x="66.10" y="644.36" width="15.20" height="11.51" fill="#F5F9FE" stroke="#111" stroke-width="1.0"/>
<text x="88.30" y="652.36" font-size="6.6" textLength="61.10" lengthAdjust="spacingAndGlyphs">Granzyme A Signaling</text>
<rect x="35.90" y="655.87" width="15.10" height="11.51" fill="#4191C6" stroke="#111" stroke-width="1.0"/>
<text x="88.30" y="663.87" font-size="6.6" textLength="98.00" lengthAdjust="spacingAndGlyphs">Graft-versus-Host Disease Signaling</text>
<rect x="35.90" y="667.37" width="15.10" height="11.51" fill="#F5F9FE" stroke="#111" stroke-width="1.0"/>
<text x="88.30" y="675.37" font-size="6.6" textLength="73.80" lengthAdjust="spacingAndGlyphs">Oxidative Phosphorylation</text>
<text x="43.05" y="497.90" font-size="6.9" textLength="13.20" lengthAdjust="spacingAndGlyphs" transform="rotate(-45 43.05 497.90)">MON</text>
<text x="58.75" y="497.90" font-size="6.9" textLength="11.90" lengthAdjust="spacingAndGlyphs" transform="rotate(-45 58.75 497.90)">GRA</text>
<text x="74.70" y="497.90" font-size="6.9" textLength="10.60" lengthAdjust="spacingAndGlyphs" transform="rotate(-45 74.70 497.90)">ERY</text>
<rect x="244.50" y="502.50" width="53.00" height="181.00" fill="#E5E270" stroke="#85858A" stroke-width="1.0"/>
<rect x="248.50" y="506.70" width="15.00" height="11.50" fill="#1F326E" stroke="#111" stroke-width="1.0"/>
<rect x="263.50" y="506.70" width="15.10" height="11.50" fill="#4191C6" stroke="#111" stroke-width="1.0"/>
<rect x="278.60" y="506.70" width="15.10" height="11.50" fill="#1F326E" stroke="#111" stroke-width="1.0"/>
<text x="302.10" y="514.70" font-size="6.6" textLength="20.10" lengthAdjust="spacingAndGlyphs">RICTOR</text>
<rect x="248.50" y="518.20" width="15.00" height="11.50" fill="#9DC8E0" stroke="#111" stroke-width="1.0"/>
<rect x="263.50" y="518.20" width="15.10" height="11.50" fill="#1F326E" stroke="#111" stroke-width="1.0"/>
<rect x="278.60" y="518.20" width="15.10" height="11.50" fill="#1F326E" stroke="#111" stroke-width="1.0"/>
<text x="302.10" y="526.20" font-size="6.6" textLength="16.70" lengthAdjust="spacingAndGlyphs">MYCN</text>
<rect x="248.50" y="529.70" width="15.00" height="11.50" fill="#2372B6" stroke="#111" stroke-width="1.0"/>
<rect x="263.50" y="529.70" width="15.10" height="11.50" fill="#C5DAEE" stroke="#111" stroke-width="1.0"/>
<rect x="278.60" y="529.70" width="15.10" height="11.50" fill="#1F326E" stroke="#111" stroke-width="1.0"/>
<text x="302.10" y="537.70" font-size="6.6" textLength="12.20" lengthAdjust="spacingAndGlyphs">MYC</text>
<rect x="248.50" y="541.20" width="15.00" height="11.50" fill="#69ACD5" stroke="#111" stroke-width="1.0"/>
<rect x="263.50" y="541.20" width="15.10" height="11.50" fill="#C5DAEE" stroke="#111" stroke-width="1.0"/>
<rect x="278.60" y="541.20" width="15.10" height="11.50" fill="#2372B6" stroke="#111" stroke-width="1.0"/>
<text x="302.10" y="549.20" font-size="6.6" textLength="20.50" lengthAdjust="spacingAndGlyphs">NFE2L2</text>
<rect x="248.50" y="552.70" width="15.00" height="11.50" fill="#1F326E" stroke="#111" stroke-width="1.0"/>
<rect x="263.50" y="552.70" width="15.10" height="11.50" fill="#DCE9F5" stroke="#111" stroke-width="1.0"/>
<rect x="278.60" y="552.70" width="15.10" height="11.50" fill="#F5F9FE" stroke="#111" stroke-width="1.0"/>
<text x="302.10" y="560.70" font-size="6.6" textLength="16.70" lengthAdjust="spacingAndGlyphs">TGFB1</text>
<rect x="248.50" y="564.20" width="15.00" height="11.50" fill="#1F326E" stroke="#111" stroke-width="1.0"/>
<rect x="278.60" y="564.20" width="15.10" height="11.50" fill="#69ACD5" stroke="#111" stroke-width="1.0"/>
<text x="302.10" y="572.20" font-size="6.6" textLength="10.60" lengthAdjust="spacingAndGlyphs">FOS</text>
<rect x="248.50" y="575.70" width="15.00" height="11.50" fill="#2054A2" stroke="#111" stroke-width="1.0"/>
<rect x="263.50" y="575.70" width="15.10" height="11.50" fill="#DCE9F5" stroke="#111" stroke-width="1.0"/>
<rect x="278.60" y="575.70" width="15.10" height="11.50" fill="#DCE9F5" stroke="#111" stroke-width="1.0"/>
<text x="302.10" y="583.70" font-size="6.6" textLength="15.80" lengthAdjust="spacingAndGlyphs">IGF1R</text>
<rect x="248.50" y="587.20" width="15.00" height="11.50" fill="#2054A2" stroke="#111" stroke-width="1.0"/>
<rect x="263.50" y="587.20" width="15.10" height="11.50" fill="#DCE9F5" stroke="#111" stroke-width="1.0"/>
<rect x="278.60" y="587.20" width="15.10" height="11.50" fill="#F5F9FE" stroke="#111" stroke-width="1.0"/>
<text x="302.10" y="595.20" font-size="6.6" textLength="9.40" lengthAdjust="spacingAndGlyphs">PRL</text>
<rect x="248.50" y="598.70" width="15.00" height="11.50" fill="#69ACD5" stroke="#111" stroke-width="1.0"/>
<rect x="278.60" y="598.70" width="15.10" height="11.50" fill="#4191C6" stroke="#111" stroke-width="1.0"/>
<text x="302.10" y="606.70" font-size="6.6" textLength="13.90" lengthAdjust="spacingAndGlyphs">EGFR</text>
<rect x="248.50" y="610.20" width="15.00" height="11.50" fill="#9DC8E0" stroke="#111" stroke-width="1.0"/>
<rect x="263.50" y="610.20" width="15.10" height="11.50" fill="#F5F9FE" stroke="#111" stroke-width="1.0"/>
<rect x="278.60" y="610.20" width="15.10" height="11.50" fill="#DCE9F5" stroke="#111" stroke-width="1.0"/>
<text x="302.10" y="618.20" font-size="6.6" textLength="7.90" lengthAdjust="spacingAndGlyphs">IL5</text>
<rect x="248.50" y="621.70" width="15.00" height="11.50" fill="#F5F9FE" stroke="#111" stroke-width="1.0"/>
<rect x="263.50" y="621.70" width="15.10" height="11.50" fill="#F5F9FE" stroke="#111" stroke-width="1.0"/>
<rect x="278.60" y="621.70" width="15.10" height="11.50" fill="#4191C6" stroke="#111" stroke-width="1.0"/>
<text x="302.10" y="629.70" font-size="6.6" textLength="18.00" lengthAdjust="spacingAndGlyphs">DOT1L</text>
<rect x="248.50" y="633.20" width="15.00" height="11.50" fill="#DCE9F5" stroke="#111" stroke-width="1.0"/>
<rect x="263.50" y="633.20" width="15.10" height="11.50" fill="#9DC8E0" stroke="#111" stroke-width="1.0"/>
<rect x="278.60" y="633.20" width="15.10" height="11.50" fill="#F5F9FE" stroke="#111" stroke-width="1.0"/>
<text x="302.10" y="641.20" font-size="6.6" textLength="11.20" lengthAdjust="spacingAndGlyphs">CD3</text>
<rect x="248.50" y="644.70" width="15.00" height="11.50" fill="#C5DAEE" stroke="#111" stroke-width="1.0"/>
<rect x="263.50" y="644.70" width="15.10" height="11.50" fill="#DCE9F5" stroke="#111" stroke-width="1.0"/>
<rect x="278.60" y="644.70" width="15.10" height="11.50" fill="#F5F9FE" stroke="#111" stroke-width="1.0"/>
<text x="302.10" y="652.70" font-size="6.6" textLength="23.90" lengthAdjust="spacingAndGlyphs">PDGF BB</text>
<rect x="248.50" y="656.20" width="15.00" height="11.50" fill="#1F326E" stroke="#111" stroke-width="1.0"/>
<text x="302.10" y="664.20" font-size="6.6" textLength="10.90" lengthAdjust="spacingAndGlyphs">IL13</text>
<rect x="248.50" y="667.70" width="15.00" height="11.50" fill="#9DC8E0" stroke="#111" stroke-width="1.0"/>
<rect x="263.50" y="667.70" width="15.10" height="11.50" fill="#DCE9F5" stroke="#111" stroke-width="1.0"/>
<rect x="278.60" y="667.70" width="15.10" height="11.50" fill="#F5F9FE" stroke="#111" stroke-width="1.0"/>
<text x="302.10" y="675.70" font-size="6.6" textLength="21.00" lengthAdjust="spacingAndGlyphs">ALKBH5</text>
<text x="255.60" y="497.90" font-size="6.9" textLength="13.20" lengthAdjust="spacingAndGlyphs" transform="rotate(-45 255.60 497.90)">MON</text>
<text x="271.25" y="497.90" font-size="6.9" textLength="11.90" lengthAdjust="spacingAndGlyphs" transform="rotate(-45 271.25 497.90)">GRA</text>
<text x="287.15" y="497.90" font-size="6.9" textLength="10.60" lengthAdjust="spacingAndGlyphs" transform="rotate(-45 287.15 497.90)">ERY</text>
<rect x="362.50" y="502.50" width="53.00" height="77.00" fill="#E5E270" stroke="#85858A" stroke-width="1.0"/>
<rect x="366.40" y="506.40" width="15.10" height="11.45" fill="#1F326E" stroke="#111" stroke-width="1.0"/>
<rect x="381.50" y="506.40" width="15.10" height="11.45" fill="#4191C6" stroke="#111" stroke-width="1.0"/>
<rect x="396.60" y="506.40" width="15.10" height="11.45" fill="#1F326E" stroke="#111" stroke-width="1.0"/>
<text x="419.40" y="514.38" font-size="6.6" textLength="38.40" lengthAdjust="spacingAndGlyphs">5−fluorouracil</text>
<rect x="366.40" y="517.85" width="15.10" height="11.45" fill="#1F326E" stroke="#111" stroke-width="1.0"/>
<rect x="381.50" y="517.85" width="15.10" height="11.45" fill="#69ACD5" stroke="#111" stroke-width="1.0"/>
<rect x="396.60" y="517.85" width="15.10" height="11.45" fill="#1F326E" stroke="#111" stroke-width="1.0"/>
<text x="419.40" y="525.83" font-size="6.6" textLength="24.60" lengthAdjust="spacingAndGlyphs">sirolimus</text>
<rect x="366.40" y="529.30" width="15.10" height="11.45" fill="#2372B6" stroke="#111" stroke-width="1.0"/>
<rect x="381.50" y="529.30" width="15.10" height="11.45" fill="#1F326E" stroke="#111" stroke-width="1.0"/>
<rect x="396.60" y="529.30" width="15.10" height="11.45" fill="#1F326E" stroke="#111" stroke-width="1.0"/>
<text x="419.40" y="537.27" font-size="6.6" textLength="57.60" lengthAdjust="spacingAndGlyphs">1,2−dithiol−3−thione</text>
<rect x="366.40" y="540.75" width="15.10" height="11.45" fill="#2372B6" stroke="#111" stroke-width="1.0"/>
<rect x="381.50" y="540.75" width="15.10" height="11.45" fill="#69ACD5" stroke="#111" stroke-width="1.0"/>
<rect x="396.60" y="540.75" width="15.10" height="11.45" fill="#9DC8E0" stroke="#111" stroke-width="1.0"/>
<text x="419.40" y="548.73" font-size="6.6" textLength="20.90" lengthAdjust="spacingAndGlyphs">ST1926</text>
<rect x="366.40" y="552.20" width="15.10" height="11.45" fill="#2054A2" stroke="#111" stroke-width="1.0"/>
<rect x="381.50" y="552.20" width="15.10" height="11.45" fill="#C5DAEE" stroke="#111" stroke-width="1.0"/>
<rect x="396.60" y="552.20" width="15.10" height="11.45" fill="#9DC8E0" stroke="#111" stroke-width="1.0"/>
<text x="419.40" y="560.17" font-size="6.6" textLength="19.50" lengthAdjust="spacingAndGlyphs">CD 437</text>
<rect x="366.40" y="563.65" width="15.10" height="11.45" fill="#2054A2" stroke="#111" stroke-width="1.0"/>
<rect x="396.60" y="563.65" width="15.10" height="11.45" fill="#69ACD5" stroke="#111" stroke-width="1.0"/>
<text x="419.40" y="571.62" font-size="6.6" textLength="51.80" lengthAdjust="spacingAndGlyphs">lipopolysaccharide</text>
<text x="373.55" y="497.90" font-size="6.9" textLength="13.20" lengthAdjust="spacingAndGlyphs" transform="rotate(-45 373.55 497.90)">MON</text>
<text x="389.25" y="497.90" font-size="6.9" textLength="11.90" lengthAdjust="spacingAndGlyphs" transform="rotate(-45 389.25 497.90)">GRA</text>
<text x="405.15" y="497.90" font-size="6.9" textLength="10.60" lengthAdjust="spacingAndGlyphs" transform="rotate(-45 405.15 497.90)">ERY</text>
<rect x="337.60" y="606.00" width="17.90" height="10.60" fill="#F5F9FE"/>
<rect x="355.20" y="606.00" width="17.90" height="10.60" fill="#DCE9F5"/>
<rect x="372.80" y="606.00" width="17.90" height="10.60" fill="#C5DAEE"/>
<rect x="390.40" y="606.00" width="17.90" height="10.60" fill="#9DC8E0"/>
<rect x="408.00" y="606.00" width="17.90" height="10.60" fill="#69ACD5"/>
<rect x="425.60" y="606.00" width="17.90" height="10.60" fill="#4191C6"/>
<rect x="443.20" y="606.00" width="17.90" height="10.60" fill="#2372B6"/>
<rect x="460.80" y="606.00" width="17.90" height="10.60" fill="#2054A2"/>
<rect x="478.40" y="606.00" width="17.90" height="10.60" fill="#1F326E"/>
<text x="416.90" y="601.00" font-size="6.5" text-anchor="middle" textLength="32.50" lengthAdjust="spacingAndGlyphs">-log(pvalue)</text>
<text x="349.00" y="625.80" font-size="6.4" text-anchor="middle">1.5</text>
<text x="367.00" y="625.80" font-size="6.4" text-anchor="middle">2</text>
<text x="391.60" y="625.80" font-size="6.4" text-anchor="middle">2.5</text>
<text x="410.30" y="625.80" font-size="6.4" text-anchor="middle">3</text>
<text x="433.80" y="625.80" font-size="6.4" text-anchor="middle">3.5</text>
<text x="452.90" y="625.80" font-size="6.4" text-anchor="middle">4</text>
<text x="477.10" y="625.80" font-size="6.4" text-anchor="middle">4.5</text>
<text x="497.90" y="625.80" font-size="6.4" text-anchor="middle">&gt;5</text>
<rect x="0.5" y="0.5" width="519" height="700" fill="none" stroke="#000" stroke-width="1.3"/>
</svg></body></html>
